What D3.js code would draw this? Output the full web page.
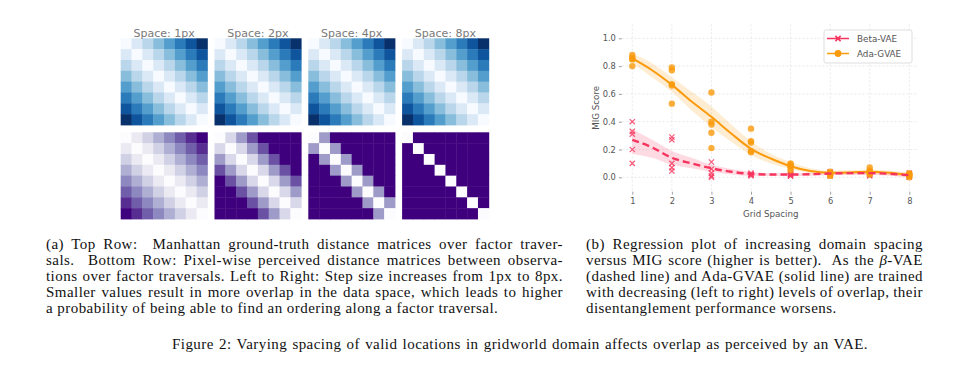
<!DOCTYPE html>
<html>
<head>
<meta charset="utf-8">
<script src="https://cdn.jsdelivr.net/npm/d3@7"></script>
<style>
  body { margin: 0; background: #fff; }
  svg { display: block; }
</style>
</head>
<body>
<div id="chart"></div>
<script>
// ---- data ----
var spacings = ["1px", "2px", "4px", "8px"];
// distance as a function of |i - j| along the traversal (8 x 8 matrices)
var manhattanByOffset = [0, 1, 2, 3, 4, 5, 6, 7];
var perceivedByOffset = [
  [0, 1, 2, 3, 4, 5, 6, 7],
  [0, 1, 2, 3, 4, 4, 4, 4],
  [0, 1, 2, 2, 2, 2, 2, 2],
  [0, 1, 1, 1, 1, 1, 1, 1]
];

var gridSpacing = [1, 2, 3, 4, 5, 6, 7, 8];
var betaScores = [
  [0.40, 0.33, 0.31, 0.20, 0.10],
  [0.29, 0.27, 0.10, 0.07, 0.045],
  [0.11, 0.06, 0.03, 0.01, 0.00],
  [0.03, 0.02, 0.02, 0.01, 0.02],
  [0.02, 0.01, 0.02, 0.03, 0.01],
  [0.04, 0.03, 0.02, 0.01, 0.03],
  [0.03, 0.02, 0.01, 0.04, 0.02],
  [0.02, 0.01, 0.00, 0.01, 0.03]
];
var adaScores = [
  [0.88, 0.86, 0.85, 0.85, 0.80],
  [0.79, 0.77, 0.67, 0.66, 0.53],
  [0.61, 0.40, 0.38, 0.32, 0.21],
  [0.35, 0.26, 0.25, 0.19, 0.18],
  [0.10, 0.09, 0.08, 0.07, 0.05],
  [0.04, 0.03, 0.02, 0.01, 0.02],
  [0.07, 0.05, 0.03, 0.02, 0.04],
  [0.03, 0.02, 0.01, 0.00, 0.02]
];

// regression curves and confidence bands as drawn
var fitX = [1, 1.5, 2, 2.5, 3, 3.5, 4, 4.5, 5, 5.5, 6, 6.5, 7, 7.5, 8];
var betaFit = [0.27, 0.215, 0.14, 0.10, 0.065, 0.04, 0.025, 0.02, 0.02, 0.022, 0.027, 0.03, 0.03, 0.025, 0.015];
var betaLo  = [0.17, 0.14, 0.09, 0.065, 0.04, 0.02, 0.01, 0.01, 0.01, 0.012, 0.015, 0.017, 0.017, 0.012, 0.0];
var betaHi  = [0.345, 0.27, 0.19, 0.14, 0.09, 0.06, 0.04, 0.03, 0.03, 0.032, 0.038, 0.042, 0.043, 0.038, 0.03];
var adaFit = [0.855, 0.77, 0.665, 0.545, 0.435, 0.315, 0.205, 0.135, 0.08, 0.045, 0.033, 0.035, 0.04, 0.032, 0.015];
var adaLo  = [0.82, 0.72, 0.615, 0.48, 0.36, 0.255, 0.16, 0.10, 0.06, 0.03, 0.02, 0.02, 0.025, 0.015, 0.0];
var adaHi  = [0.89, 0.82, 0.72, 0.615, 0.51, 0.38, 0.26, 0.17, 0.11, 0.065, 0.048, 0.05, 0.057, 0.048, 0.035];

var yTicks = [0.0, 0.2, 0.4, 0.6, 0.8, 1.0];

var captionA = [
  "(a) Top Row:  Manhattan ground-truth distance matrices over factor traver-",
  "sals.  Bottom Row: Pixel-wise perceived distance matrices between observa-",
  "tions over factor traversals. Left to Right: Step size increases from 1px to 8px.",
  "Smaller values result in more overlap in the data space, which leads to higher",
  "a probability of being able to find an ordering along a factor traversal."
];
var captionB = [
  ["(b) Regression plot of increasing domain spacing"],
  ["versus MIG score (higher is better).  As the ", "β", "-VAE"],
  ["(dashed line) and Ada-GVAE (solid line) are trained"],
  ["with decreasing (left to right) levels of overlap, their"],
  ["disentanglement performance worsens."]
];
var figCaption = "Figure 2: Varying spacing of valid locations in gridworld domain affects overlap as perceived by an VAE.";

// ---- setup ----
var width = 953, height = 368;
var betaColor = "#f7345e", adaColor = "#fa9a0a";

var svg = d3.select("#chart").append("svg")
  .attr("width", width)
  .attr("height", height);

// ---- distance matrices ----
var panelX = d3.scaleBand()
  .domain(spacings)
  .range([120.7, 488.8])
  .paddingInner(0.0757);
var cell = d3.scaleBand()
  .domain(d3.range(8))
  .range([0, panelX.bandwidth()]);

var blues = d3.scaleSequential(d3.interpolateBlues).domain([0, d3.max(manhattanByOffset)]);

function drawMatrix(g, profile, color) {
  var cells = [];
  d3.range(8).forEach(function(i) {
    d3.range(8).forEach(function(j) {
      cells.push({ r: i, c: j, v: profile[Math.abs(i - j)] });
    });
  });
  g.selectAll("rect")
    .data(cells)
    .enter().append("rect")
    .attr("x", function(d) { return cell(d.c); })
    .attr("y", function(d) { return cell(d.r); })
    .attr("width", cell.bandwidth() + 0.4)
    .attr("height", cell.bandwidth() + 0.4)
    .attr("fill", function(d) { return color(d.v); });
}

spacings.forEach(function(s, k) {
  var top = svg.append("g").attr("transform", "translate(" + panelX(s) + ",38.3)");
  drawMatrix(top, manhattanByOffset, blues);

  svg.append("text")
    .attr("x", panelX(s) + panelX.bandwidth() / 2)
    .attr("y", 36.5)
    .attr("text-anchor", "middle")
    .attr("font-family", "DejaVu Sans")
    .attr("font-size", 11)
    .attr("fill", "#7a7a7a")
    .text("Space: " + s);

  var purples = d3.scaleSequential(d3.interpolatePurples).domain([0, d3.max(perceivedByOffset[k])]);
  var bottom = svg.append("g").attr("transform", "translate(" + panelX(s) + ",132.3)");
  drawMatrix(bottom, perceivedByOffset[k], purples);
});

// ---- regression plot ----
var x = d3.scaleLinear().domain([0.75, 8.2]).range([622.4, 917.2]);
var y = d3.scaleLinear().domain([-0.1, 1.1]).range([191.2, 24.4]);

var plot = svg.append("g");

// grid
plot.selectAll(".vgrid")
  .data(gridSpacing)
  .enter().append("line")
  .attr("x1", function(d) { return x(d); })
  .attr("x2", function(d) { return x(d); })
  .attr("y1", y(1.1))
  .attr("y2", y(-0.1))
  .attr("stroke", "#e3e3e3")
  .attr("stroke-width", 0.8)
  .attr("stroke-dasharray", "2,2");
plot.selectAll(".hgrid")
  .data(yTicks)
  .enter().append("line")
  .attr("x1", x(0.75))
  .attr("x2", x(8.2))
  .attr("y1", function(d) { return y(d); })
  .attr("y2", function(d) { return y(d); })
  .attr("stroke", "#e3e3e3")
  .attr("stroke-width", 0.8)
  .attr("stroke-dasharray", "2,2");

// axes (no spines, small ticks)
var yAxis = d3.axisLeft(y).tickValues(yTicks).tickFormat(d3.format(".1f")).tickSize(3).tickPadding(3);
var yG = plot.append("g").attr("transform", "translate(" + (x(0.75) - 0.5) + ",0)").call(yAxis);
var xAxis = d3.axisBottom(x).tickValues(gridSpacing).tickFormat(d3.format("d")).tickSize(3).tickPadding(3);
var xG = plot.append("g").attr("transform", "translate(0," + (y(-0.1) + 0.5) + ")").call(xAxis);
[yG, xG].forEach(function(g) {
  g.select(".domain").remove();
  g.selectAll(".tick line").attr("stroke", "#888").attr("stroke-width", 0.8);
  g.selectAll(".tick text")
    .attr("fill", "#555")
    .attr("font-family", "DejaVu Sans")
    .attr("font-size", 8.3);
});

plot.append("text")
  .attr("transform", "translate(599," + y(0.5) + ") rotate(-90)")
  .attr("text-anchor", "middle")
  .attr("font-family", "DejaVu Sans")
  .attr("font-size", 8.7)
  .attr("fill", "#555")
  .text("MIG Score");
plot.append("text")
  .attr("x", x(4.5))
  .attr("y", 216.5)
  .attr("text-anchor", "middle")
  .attr("font-family", "DejaVu Sans")
  .attr("font-size", 8.7)
  .attr("fill", "#555")
  .text("Grid Spacing");

function bandData(lo, hi) {
  return fitX.map(function(v, i) { return { x: v, lo: lo[i], hi: hi[i] }; });
}
function lineData(fit) {
  return fitX.map(function(v, i) { return { x: v, y: fit[i] }; });
}
var area = d3.area()
  .curve(d3.curveMonotoneX)
  .x(function(d) { return x(d.x); })
  .y0(function(d) { return y(d.lo); })
  .y1(function(d) { return y(d.hi); });
var line = d3.line()
  .curve(d3.curveMonotoneX)
  .x(function(d) { return x(d.x); })
  .y(function(d) { return y(d.y); });

plot.append("path").datum(bandData(betaLo, betaHi))
  .attr("d", area).attr("fill", betaColor).attr("fill-opacity", 0.18);
plot.append("path").datum(bandData(adaLo, adaHi))
  .attr("d", area).attr("fill", adaColor).attr("fill-opacity", 0.18);

function flatten(scores) {
  var pts = [];
  scores.forEach(function(row, i) {
    row.forEach(function(v) { pts.push({ x: gridSpacing[i], y: v }); });
  });
  return pts;
}

function crossPath(s) {
  return "M" + (-s) + "," + (-s) + "L" + s + "," + s + "M" + (-s) + "," + s + "L" + s + "," + (-s);
}

// Beta-VAE points
plot.selectAll(".beta-pt")
  .data(flatten(betaScores))
  .enter().append("path")
  .attr("class", "beta-pt")
  .attr("transform", function(d) { return "translate(" + x(d.x) + "," + y(d.y) + ")"; })
  .attr("d", crossPath(2.6))
  .attr("stroke", betaColor)
  .attr("stroke-width", 1.3)
  .attr("stroke-opacity", 0.8)
  .attr("fill", "none");

// Ada-GVAE points
plot.selectAll(".ada-pt")
  .data(flatten(adaScores))
  .enter().append("circle")
  .attr("class", "ada-pt")
  .attr("cx", function(d) { return x(d.x); })
  .attr("cy", function(d) { return y(d.y); })
  .attr("r", 3.2)
  .attr("fill", adaColor)
  .attr("fill-opacity", 0.8);

plot.append("path").datum(lineData(adaFit))
  .attr("d", line).attr("fill", "none")
  .attr("stroke", adaColor).attr("stroke-width", 2);
plot.append("path").datum(lineData(betaFit))
  .attr("d", line).attr("fill", "none")
  .attr("stroke", betaColor).attr("stroke-width", 2.4)
  .attr("stroke-dasharray", "7,4");

// legend
var legend = plot.append("g").attr("transform", "translate(824,30)");
legend.append("rect")
  .attr("width", 88).attr("height", 33).attr("rx", 2)
  .attr("fill", "#fff").attr("fill-opacity", 0.85)
  .attr("stroke", "#d6d6d6").attr("stroke-width", 0.8);
var items = [
  { name: "Beta-VAE", color: betaColor, marker: "x" },
  { name: "Ada-GVAE", color: adaColor, marker: "o" }
];
items.forEach(function(it, i) {
  var g = legend.append("g").attr("transform", "translate(0," + (8.5 + i * 15) + ")");
  g.append("line").attr("x1", 3).attr("x2", 25)
    .attr("stroke", it.color).attr("stroke-width", 1.5);
  if (it.marker === "x") {
    g.append("path").attr("transform", "translate(14,0)").attr("d", crossPath(2.6))
      .attr("stroke", it.color).attr("stroke-width", 1.6);
  } else {
    g.append("circle").attr("cx", 14).attr("r", 3.4).attr("fill", it.color);
  }
  g.append("text").attr("x", 33).attr("y", 3)
    .attr("font-family", "DejaVu Sans").attr("font-size", 8.8)
    .attr("fill", "#555").text(it.name);
});

// ---- captions ----
function justify(t, w) {
  var natural = t.node().getComputedTextLength();
  var spaces = (t.text().match(/ /g) || []).length;
  if (spaces > 0) t.attr("word-spacing", (w - natural) / spaces);
}

// Palatino is not installed: a Times-like face with a little tracking
var capFont = "Liberation Serif", capSize = 15, capTrack = 0.45;
var baselines = [249, 265, 281, 297, 313];

function captionLine(xPos, yPos) {
  return svg.append("text")
    .attr("x", xPos).attr("y", yPos)
    .attr("font-family", capFont).attr("font-size", capSize)
    .attr("letter-spacing", capTrack)
    .attr("fill", "#111")
    .attr("xml:space", "preserve");
}

captionA.forEach(function(s, i) {
  var t = captionLine(46, baselines[i]).text(s);
  if (i < captionA.length - 1) justify(t, 517);
});

captionB.forEach(function(parts, i) {
  var t = captionLine(586, baselines[i]);
  parts.forEach(function(p) {
    var ts = t.append("tspan").text(p);
    if (p === "β") ts.attr("font-style", "italic");
  });
  if (i < captionB.length - 1) justify(t, 337);
});

var fc = captionLine(172, 349).text(figCaption);
justify(fc, 696);
</script>
</body>
</html>
